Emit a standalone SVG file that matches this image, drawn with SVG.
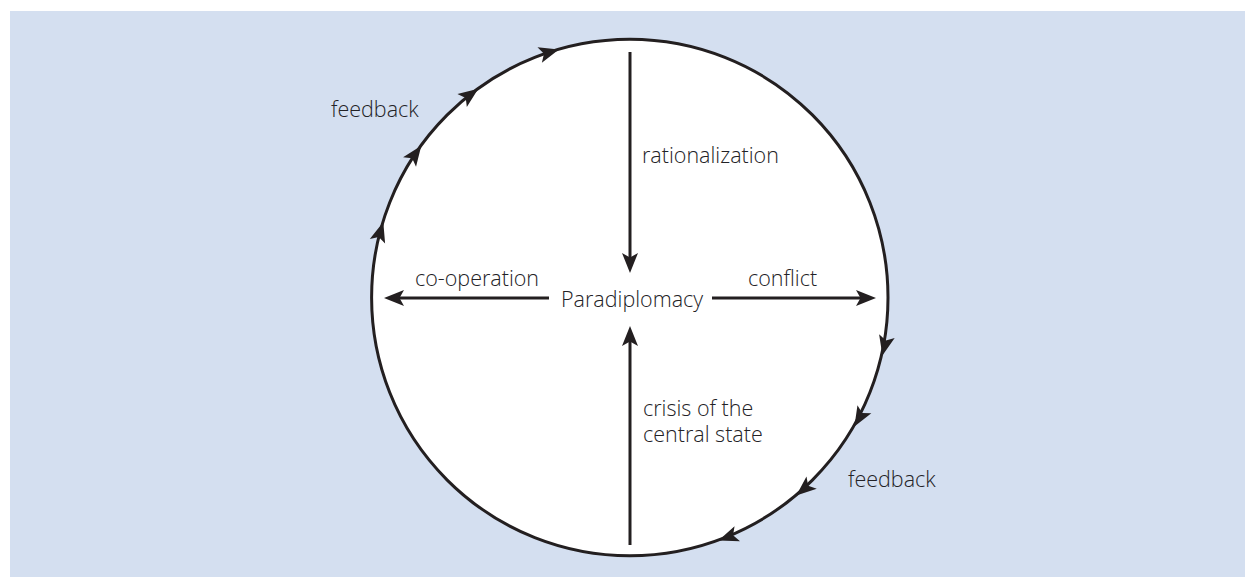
<svg xmlns="http://www.w3.org/2000/svg" xmlns:xlink="http://www.w3.org/1999/xlink" width="1245" height="577" viewBox="0 0 1245 577">
<style>
.t{font-family:"Open Sans","DejaVu Sans",sans-serif;font-weight:300;font-size:21.5px;fill:#232226}
.ln{stroke:#231f20;stroke-width:3;fill:none}
.ring{stroke:#231f20;stroke-width:3;fill:#ffffff}
.ah{fill:#231f20}
</style>
<defs>
<path id="ah" d="M0,0 L-20,-8 L-15.5,0 L-20,8 Z"/>
</defs>
<rect x="10" y="11" width="1235" height="566" fill="#d4dff0"/>
<g id="cycle">
<circle cx="629.8" cy="297.5" r="258.2" class="ring"/>
</g>
<g id="connectors">
<line class="ln" x1="630" y1="52" x2="630" y2="262"/>
<line class="ln" x1="630" y1="545" x2="630" y2="337"/>
<line class="ln" x1="549" y1="298" x2="395" y2="298"/>
<line class="ln" x1="712" y1="298" x2="865" y2="298"/>
<use href="#ah" class="ah" transform="translate(630,273) rotate(90)"/>
<use href="#ah" class="ah" transform="translate(630,326) rotate(-90)"/>
<use href="#ah" class="ah" transform="translate(384,298) rotate(180)"/>
<use href="#ah" class="ah" transform="translate(876,298)"/>
<use href="#ah" class="ah" transform="translate(383.3,222.1) rotate(287)"/>
<use href="#ah" class="ah" transform="translate(421.3,145.8) rotate(306)"/>
<use href="#ah" class="ah" transform="translate(478.3,88.8) rotate(324)"/>
<use href="#ah" class="ah" transform="translate(558.9,49.5) rotate(344)"/>
<use href="#ah" class="ah" transform="translate(882.4,355.6) rotate(103)"/>
<use href="#ah" class="ah" transform="translate(854.4,426.5) rotate(120)"/>
<use href="#ah" class="ah" transform="translate(796.3,495.6) rotate(140)"/>
<use href="#ah" class="ah" transform="translate(718.5,540.5) rotate(160)"/>
</g>
<g id="paradiplomacy"><text class="t" x="561" y="307">Paradiplomacy</text></g>
<g id="rationalization"><text class="t" x="642" y="163">rationalization</text></g>
<g id="cooperation"><text class="t" x="415" y="286">co-operation</text></g>
<g id="conflict"><text class="t" x="748" y="286">conflict</text></g>
<g id="crisis"><text class="t" x="643" y="416">crisis of the</text><text class="t" x="643" y="442">central state</text></g>
<g id="feedback-top"><text class="t" x="331" y="117">feedback</text></g>
<g id="feedback-bottom"><text class="t" x="848" y="487">feedback</text></g>
</svg>
